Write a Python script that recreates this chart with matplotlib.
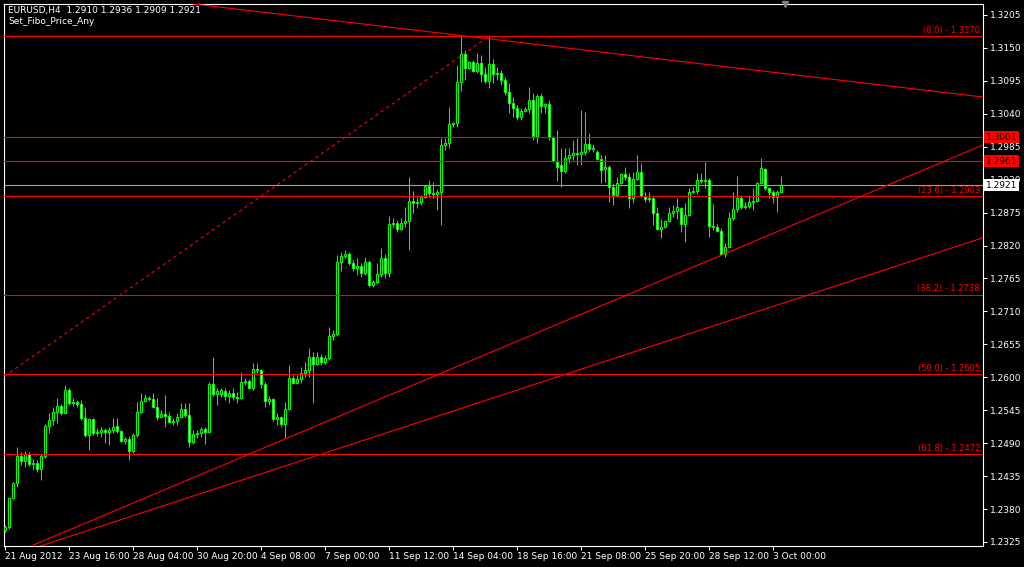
import matplotlib.pyplot as plt
from matplotlib import transforms
import numpy as np

# header texts
symbol_line = "EURUSD,H4  1.2910 1.2936 1.2909 1.2921"
script_name = "Set_Fibo_Price_Any"

# H4 bars, 21 Aug 2012 .. 3 Oct 2012
opens = [
    1.2345, 1.2350, 1.2398, 1.2423, 1.2468, 1.2460, 1.2472, 1.2455, 1.2457, 1.2447,
    1.2468, 1.2519, 1.2529, 1.2542, 1.2552, 1.2540, 1.2579, 1.2557, 1.2559, 1.2555,
    1.2532, 1.2504, 1.2530, 1.2507, 1.2509, 1.2512, 1.2509, 1.2512, 1.2519, 1.2510,
    1.2493, 1.2497, 1.2477, 1.2504, 1.2542, 1.2560, 1.2565, 1.2564, 1.2550, 1.2534,
    1.2539, 1.2535, 1.2525, 1.2527, 1.2534, 1.2547, 1.2537, 1.2492, 1.2505, 1.2507,
    1.2514, 1.2509, 1.2589, 1.2572, 1.2572, 1.2577, 1.2569, 1.2574, 1.2567, 1.2565,
    1.2592, 1.2594, 1.2582, 1.2614, 1.2612, 1.2589, 1.2560, 1.2564, 1.2530, 1.2534,
    1.2522, 1.2547, 1.2599, 1.2590, 1.2597, 1.2607, 1.2612, 1.2634, 1.2622, 1.2634,
    1.2625, 1.2632, 1.2669, 1.2672, 1.2792, 1.2803, 1.2806, 1.2791, 1.2782, 1.2786,
    1.2774, 1.2792, 1.2754, 1.2759, 1.2772, 1.2799, 1.2774, 1.2856, 1.2858, 1.2848,
    1.2858, 1.2861, 1.2894, 1.2891, 1.2893, 1.2901, 1.2919, 1.2908, 1.2906, 1.2909,
    1.2988, 1.2991, 1.3023, 1.3025, 1.3093, 1.3140, 1.3116, 1.3126, 1.3111, 1.3125,
    1.3106, 1.3095, 1.3123, 1.3106, 1.3108, 1.3096, 1.3076, 1.3058, 1.3050, 1.3035,
    1.3045, 1.3048, 1.3063, 1.3003, 1.3070, 1.3053, 1.3056, 1.3001, 1.2960, 1.2954,
    1.2944, 1.2966, 1.2971, 1.2974, 1.2973, 1.2976, 1.2989, 1.2981, 1.2976, 1.2964,
    1.2948, 1.2951, 1.2918, 1.2904, 1.2924, 1.2939, 1.2934, 1.2899, 1.2931, 1.2943,
    1.2901, 1.2898, 1.2900, 1.2874, 1.2848, 1.2851, 1.2861, 1.2874, 1.2878, 1.2883,
    1.2856, 1.2871, 1.2909, 1.2911, 1.2929, 1.2928, 1.2929, 1.2853, 1.2851, 1.2844,
    1.2806, 1.2818, 1.2866, 1.2881, 1.2899, 1.2884, 1.2886, 1.2893, 1.2895, 1.2924,
    1.2948, 1.2916, 1.2909, 1.2901, 1.2910,
]
highs = [
    1.2353, 1.2400, 1.2425, 1.2483, 1.2475, 1.2477, 1.2475, 1.2463, 1.2462, 1.2472,
    1.2522, 1.2540, 1.2550, 1.2565, 1.2555, 1.2587, 1.2582, 1.2565, 1.2562, 1.2562,
    1.2550, 1.2532, 1.2532, 1.2515, 1.2517, 1.2515, 1.2517, 1.2532, 1.2532, 1.2512,
    1.2500, 1.2502, 1.2507, 1.2559, 1.2574, 1.2572, 1.2569, 1.2574, 1.2565, 1.2545,
    1.2570, 1.2542, 1.2532, 1.2540, 1.2557, 1.2557, 1.2557, 1.2512, 1.2512, 1.2517,
    1.2517, 1.2592, 1.2634, 1.2582, 1.2582, 1.2582, 1.2579, 1.2582, 1.2575, 1.2609,
    1.2599, 1.2597, 1.2624, 1.2624, 1.2614, 1.2592, 1.2569, 1.2566, 1.2540, 1.2536,
    1.2559, 1.2620, 1.2604, 1.2604, 1.2617, 1.2625, 1.2649, 1.2642, 1.2642, 1.2639,
    1.2637, 1.2684, 1.2679, 1.2804, 1.2809, 1.2813, 1.2809, 1.2796, 1.2799, 1.2791,
    1.2801, 1.2796, 1.2762, 1.2791, 1.2816, 1.2806, 1.2869, 1.2866, 1.2862, 1.2866,
    1.2884, 1.2934, 1.2911, 1.2901, 1.2904, 1.2921, 1.2929, 1.2926, 1.2914, 1.2999,
    1.2999, 1.3051, 1.3027, 1.3121, 1.3170, 1.3146, 1.3128, 1.3130, 1.3141, 1.3138,
    1.3118, 1.3168, 1.3132, 1.3118, 1.3113, 1.3101, 1.3091, 1.3068, 1.3055, 1.3050,
    1.3051, 1.3085, 1.3075, 1.3073, 1.3075, 1.3058, 1.3063, 1.3003, 1.3013, 1.2983,
    1.2983, 1.2983, 1.2996, 1.2999, 1.3046, 1.3043, 1.3008, 1.2989, 1.2979, 1.2971,
    1.2971, 1.2954, 1.2924, 1.2934, 1.2941, 1.2951, 1.2941, 1.2943, 1.2971, 1.2958,
    1.2909, 1.2909, 1.2901, 1.2884, 1.2864, 1.2863, 1.2884, 1.2888, 1.2899, 1.2884,
    1.2891, 1.2916, 1.2918, 1.2941, 1.2941, 1.2960, 1.2933, 1.2889, 1.2856, 1.2849,
    1.2824, 1.2876, 1.2909, 1.2936, 1.2904, 1.2893, 1.2904, 1.2916, 1.2926, 1.2966,
    1.2950, 1.2918, 1.2913, 1.2912, 1.2936,
]
lows = [
    1.2342, 1.2347, 1.2397, 1.2417, 1.2453, 1.2450, 1.2452, 1.2445, 1.2442, 1.2428,
    1.2465, 1.2507, 1.2520, 1.2524, 1.2537, 1.2539, 1.2554, 1.2552, 1.2550, 1.2529,
    1.2500, 1.2478, 1.2504, 1.2502, 1.2500, 1.2490, 1.2487, 1.2507, 1.2507, 1.2492,
    1.2488, 1.2462, 1.2473, 1.2500, 1.2540, 1.2559, 1.2560, 1.2548, 1.2529, 1.2532,
    1.2517, 1.2524, 1.2520, 1.2520, 1.2532, 1.2534, 1.2484, 1.2488, 1.2499, 1.2500,
    1.2488, 1.2507, 1.2569, 1.2554, 1.2567, 1.2562, 1.2557, 1.2562, 1.2557, 1.2564,
    1.2587, 1.2580, 1.2579, 1.2607, 1.2582, 1.2550, 1.2554, 1.2527, 1.2520, 1.2517,
    1.2499, 1.2545, 1.2589, 1.2589, 1.2590, 1.2600, 1.2600, 1.2557, 1.2620, 1.2620,
    1.2622, 1.2629, 1.2662, 1.2669, 1.2777, 1.2799, 1.2787, 1.2777, 1.2771, 1.2767,
    1.2771, 1.2751, 1.2751, 1.2757, 1.2767, 1.2766, 1.2767, 1.2851, 1.2843, 1.2846,
    1.2851, 1.2813, 1.2874, 1.2883, 1.2888, 1.2899, 1.2901, 1.2899, 1.2879, 1.2854,
    1.2979, 1.2983, 1.3018, 1.3018, 1.3078, 1.3096, 1.3114, 1.3110, 1.3108, 1.3093,
    1.3091, 1.3083, 1.3091, 1.3096, 1.3088, 1.3071, 1.3041, 1.3035, 1.3030, 1.3030,
    1.3043, 1.3041, 1.2996, 1.2991, 1.3041, 1.3041, 1.2996, 1.2959, 1.2928, 1.2918,
    1.2941, 1.2958, 1.2963, 1.2954, 1.2954, 1.2971, 1.2978, 1.2976, 1.2963, 1.2924,
    1.2926, 1.2893, 1.2888, 1.2901, 1.2923, 1.2929, 1.2883, 1.2891, 1.2929, 1.2901,
    1.2893, 1.2893, 1.2854, 1.2846, 1.2833, 1.2849, 1.2859, 1.2868, 1.2864, 1.2843,
    1.2826, 1.2869, 1.2908, 1.2906, 1.2924, 1.2916, 1.2834, 1.2846, 1.2842, 1.2804,
    1.2801, 1.2816, 1.2863, 1.2876, 1.2881, 1.2881, 1.2883, 1.2879, 1.2893, 1.2923,
    1.2913, 1.2899, 1.2891, 1.2876, 1.2909,
]
closes = [
    1.2350, 1.2398, 1.2423, 1.2468, 1.2460, 1.2472, 1.2455, 1.2457, 1.2447, 1.2468,
    1.2519, 1.2529, 1.2542, 1.2552, 1.2540, 1.2579, 1.2557, 1.2559, 1.2555, 1.2532,
    1.2504, 1.2530, 1.2507, 1.2509, 1.2512, 1.2509, 1.2512, 1.2517, 1.2510, 1.2493,
    1.2497, 1.2477, 1.2504, 1.2542, 1.2560, 1.2565, 1.2564, 1.2550, 1.2534, 1.2539,
    1.2535, 1.2525, 1.2527, 1.2534, 1.2547, 1.2537, 1.2492, 1.2505, 1.2507, 1.2514,
    1.2509, 1.2589, 1.2572, 1.2577, 1.2579, 1.2569, 1.2574, 1.2567, 1.2565, 1.2592,
    1.2594, 1.2582, 1.2614, 1.2612, 1.2589, 1.2560, 1.2564, 1.2530, 1.2534, 1.2522,
    1.2547, 1.2599, 1.2590, 1.2597, 1.2607, 1.2612, 1.2634, 1.2622, 1.2634, 1.2625,
    1.2632, 1.2669, 1.2672, 1.2792, 1.2803, 1.2806, 1.2791, 1.2782, 1.2786, 1.2774,
    1.2792, 1.2754, 1.2759, 1.2772, 1.2799, 1.2774, 1.2856, 1.2858, 1.2848, 1.2858,
    1.2861, 1.2894, 1.2891, 1.2893, 1.2901, 1.2919, 1.2908, 1.2906, 1.2909, 1.2988,
    1.2991, 1.3023, 1.3025, 1.3093, 1.3140, 1.3116, 1.3126, 1.3111, 1.3125, 1.3106,
    1.3095, 1.3123, 1.3106, 1.3108, 1.3096, 1.3076, 1.3058, 1.3050, 1.3035, 1.3045,
    1.3048, 1.3063, 1.3003, 1.3070, 1.3053, 1.3056, 1.3001, 1.2961, 1.2951, 1.2944,
    1.2966, 1.2971, 1.2974, 1.2973, 1.2976, 1.2989, 1.2981, 1.2983, 1.2964, 1.2946,
    1.2951, 1.2918, 1.2904, 1.2924, 1.2939, 1.2934, 1.2899, 1.2931, 1.2943, 1.2903,
    1.2898, 1.2900, 1.2874, 1.2848, 1.2851, 1.2861, 1.2874, 1.2878, 1.2884, 1.2856,
    1.2871, 1.2909, 1.2911, 1.2929, 1.2928, 1.2929, 1.2853, 1.2851, 1.2844, 1.2806,
    1.2818, 1.2866, 1.2881, 1.2899, 1.2884, 1.2886, 1.2893, 1.2895, 1.2924, 1.2949,
    1.2916, 1.2909, 1.2901, 1.2910, 1.2921,
]

date_ticks = [0, 16, 32, 48, 64, 80, 96, 112, 128, 144, 160, 176, 192]
date_labels = ["21 Aug 2012", "23 Aug 16:00", "28 Aug 04:00", "30 Aug 20:00",
               "4 Sep 08:00", "7 Sep 00:00", "11 Sep 12:00", "14 Sep 04:00",
               "18 Sep 16:00", "21 Sep 08:00", "25 Sep 20:00", "28 Sep 12:00",
               "3 Oct 00:00"]
price_ticks = [1.2325, 1.2380, 1.2435, 1.2490, 1.2545, 1.2600, 1.2655, 1.2710, 1.2765,
               1.2820, 1.2875, 1.2930, 1.2985, 1.3040, 1.3095, 1.3150, 1.3205]

fib_levels = ["0.0", "23.6", "38.2", "50.0", "61.8"]
fib_prices = [1.3170, 1.2903, 1.2738, 1.2605, 1.2472]
marked_prices = [1.3001, 1.2961]
bid_price = 1.2921

# trend lines as two anchor points (bar index, price)
trend_down = [(51.2, 1.3220), (244.4, 1.3068)]
trend_up_steep = [(9.9, 1.2328), (244.4, 1.2988)]
trend_up_flat = [(13.2, 1.2328), (244.4, 1.2833)]
fibo_diag = [(-120.0, 1.2040), (121.0, 1.3170)]

lime = '#00ff00'
red = '#ff0000'

fig = plt.figure(figsize=(10.24, 5.67), dpi=100, facecolor='black')
ax = fig.add_axes([4 / 1024, 21 / 567, 979 / 1024, 542 / 567])
ax.set_facecolor('black')
ax.set_xlim(-0.33, 244.4)
ax.set_ylim(1.23183, 1.32233)

# candles
o = np.array(opens)
h = np.array(highs)
l = np.array(lows)
c = np.array(closes)
x = np.arange(len(o))
up = c >= o
ax.vlines(x, l, h, color=lime, lw=0.75, zorder=3)
ax.bar(x, np.abs(c - o), bottom=np.minimum(o, c), width=0.5,
       color=np.where(up, 'black', 'white'), edgecolor=lime, linewidth=0.75, zorder=4)

# horizontal levels
for p in fib_prices + marked_prices:
    ax.axhline(p, color=red, lw=0.8, zorder=5)
ax.axhline(bid_price, color='#a0a0a0', lw=0.8, zorder=2)

# trend lines
for line in [trend_down, trend_up_steep, trend_up_flat]:
    ax.axline(line[0], line[1], color=red, lw=0.8, zorder=5)
ax.plot([fibo_diag[0][0], fibo_diag[1][0]], [fibo_diag[0][1], fibo_diag[1][1]],
        color=red, lw=0.8, ls=(0, (3, 3)), zorder=5)

# fibo labels
blend = transforms.blended_transform_factory(ax.transAxes, ax.transData)
for lev, p in zip(fib_levels, fib_prices):
    ax.text(1 - 3 / 979, p + 0.0002, f"({lev}) - {p:.4f}", transform=blend,
            ha='right', va='bottom', color=red, fontsize=6, zorder=6)

# axes look
for s in ax.spines.values():
    s.set_color('white')
    s.set_linewidth(0.8)
ax.yaxis.tick_right()
ax.set_yticks(price_ticks)
ax.set_yticklabels([f"{p:.4f}" for p in price_ticks])
ax.tick_params(axis='y', colors='white', labelsize=6.5, length=3, width=0.75, pad=2)
ax.set_xticks(date_ticks)
ax.set_xticklabels(date_labels, ha='left')
ax.tick_params(axis='x', colors='white', labelsize=6.5, length=3, width=0.75, pad=1)

# price boxes on the scale
for p in marked_prices:
    ax.text(1 + 3 / 979, p, f"{p:.4f}", transform=blend, ha='left', va='center',
            fontsize=6.5, color='black', clip_on=False, zorder=7,
            bbox=dict(boxstyle='square,pad=0.2', fc=red, ec='none'))
ax.text(1 + 3 / 979, bid_price, f"{bid_price:.4f}", transform=blend, ha='left',
        va='center', fontsize=6.5, color='black', clip_on=False, zorder=7,
        bbox=dict(boxstyle='square,pad=0.2', fc='white', ec='none'))

# chart shift marker
ax.plot([len(o)], [ax.get_ylim()[1]], marker='v', color='#808080', ms=5,
        clip_on=False, zorder=7)

fig.text(8 / 1024, 1 - 11 / 567, symbol_line, color='white', fontsize=6.5, va='center')
fig.text(8 / 1024, 1 - 22 / 567, script_name, color='white', fontsize=6.5, va='center')

fig.savefig('out.png', dpi=100, facecolor='black')
